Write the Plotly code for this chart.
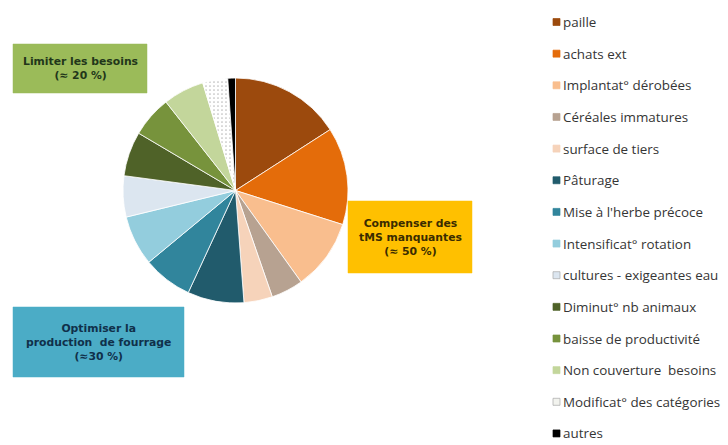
import plotly.graph_objects as go

labels = ["paille", "achats ext", "Implantat° dérobées", "Céréales immatures",
          "surface de tiers", "Pâturage", "Mise à l'herbe précoce",
          "Intensificat° rotation", "cultures - exigeantes eau",
          "Diminut° nb animaux", "baisse de productivité",
          "Non couverture  besoins", "Modificat° des catégories", "autres"]
values = [15.9, 14.0, 10.2, 4.6, 4.1, 8.1, 7.1, 7.2, 5.9, 6.4, 5.9, 5.9, 3.6, 1.1]
colors = ["#9C4A0D", "#E46C0A", "#F9BE8E", "#B7A291", "#F6D3BA", "#215B6C",
          "#31859C", "#93CDDD", "#DCE6F0", "#4F6228", "#77933C", "#C3D69B",
          "#F2F3EE", "#000000"]
patterns = ["", "", "", "", "", "", "", "", "", "", "", "", ".", ""]

box_texts = ["Limiter les besoins<br>(≈ 20 %)",
             "Compenser des<br>tMS manquantes<br>(≈ 50 %)",
             "Optimiser la<br>production  de fourrage<br>(≈30 %)"]
box_colors = ["#9BBB59", "#FFC000", "#4BACC6"]
box_text_colors = ["#22361A", "#3A2C00", "#10304A"]

W, H = 728, 445
def px(x):
    return x / W
def py(y):
    return 1 - y / H

fig = go.Figure()
cx, cy, r = 235.5, 190.5, 112.5
fig.add_trace(go.Pie(
    labels=labels, values=values, sort=False, direction="clockwise", rotation=0,
    marker=dict(colors=colors, line=dict(color="#FFFFFF", width=0.8),
                pattern=dict(shape=patterns, fgcolor="#BDBDBD", size=4, solidity=0.15)),
    textinfo="none", hoverinfo="label+value", showlegend=False,
    domain=dict(x=[px(cx - r), px(cx + r)], y=[py(cy + r), py(cy - r)]),
))

shapes = []
annotations = []
# manual legend
y0, step = 22.0, 31.65
for i, (lab, col) in enumerate(zip(labels, colors)):
    yy = y0 + i * step
    light = col in ("#DCE6F0", "#F2F3EE")
    shapes.append(dict(type="rect", xref="paper", yref="paper",
                       x0=px(553), x1=px(560), y0=py(yy + 3.5), y1=py(yy - 3.5),
                       fillcolor=col, line=dict(color="#A8A8A8" if light else col, width=0.7)))
    annotations.append(dict(x=px(561), y=py(yy), xref="paper", yref="paper",
                            text=lab, showarrow=False, xanchor="left", yanchor="middle",
                            font=dict(family="Open Sans", size=13.4, color="#353535")))

boxes = [(13, 44, 147, 93), (348, 201, 472, 273), (13, 307, 184, 377)]
for (x0, y0b, x1, y1), t, bc, tc in zip(boxes, box_texts, box_colors, box_text_colors):
    shapes.append(dict(type="rect", xref="paper", yref="paper",
                       x0=px(x0), x1=px(x1), y0=py(y1), y1=py(y0b),
                       fillcolor=bc, line=dict(color=bc, width=0.5)))
    annotations.append(dict(x=px((x0 + x1) / 2), y=py((y0b + y1) / 2), xref="paper", yref="paper",
                            text="<b>" + t + "</b>", showarrow=False, xanchor="center",
                            yanchor="middle", align="center",
                            font=dict(family="DejaVu Sans", size=10.8, color=tc)))

fig.update_layout(width=W, height=H, margin=dict(l=0, r=0, t=0, b=0),
                  paper_bgcolor="white", plot_bgcolor="white",
                  shapes=shapes, annotations=annotations)
fig.write_html("out.html")
